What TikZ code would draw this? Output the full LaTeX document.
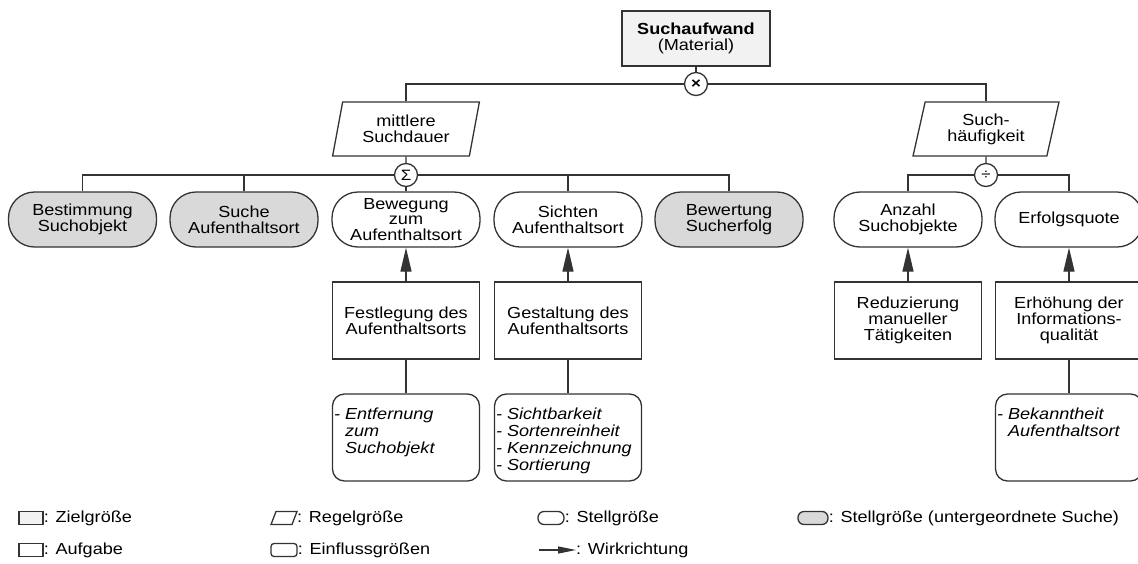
\documentclass[tikz,border=0pt]{standalone}
\usepackage{fontspec}
\setmainfont{Liberation Sans}[FakeStretch=1.13]
\usetikzlibrary{shapes.geometric,arrows.meta,calc}
\begin{document}
\begin{tikzpicture}[x=1pt,y=-1pt,
  every node/.style={font=\fontsize{16}{16}\selectfont, inner sep=0pt, align=center},
  ln/.style={draw=black!80, line width=1.3pt},
  ziel/.style={ln, fill=black!5, minimum width=148pt, minimum height=55pt},
  regel/.style={ln, fill=white, trapezium, trapezium left angle=76, trapezium right angle=104,
     trapezium stretches=true, minimum width=147pt, minimum height=54pt},
  stell/.style={ln, fill=white, rounded corners=26pt, minimum width=148pt, minimum height=55pt},
  stellsub/.style={stell, fill=black!15},
  aufg/.style={ln, fill=white, minimum width=147pt, minimum height=77pt},
  einfl/.style={ln, fill=white, rounded corners=12pt, minimum width=147pt, minimum height=87pt},
  etext/.style={anchor=north west, align=left, font=\fontsize{16}{17}\selectfont\itshape},
  op/.style={ln, circle, fill=white, minimum size=23pt, font=\fontsize{15}{15}\selectfont},
  wirk/.style={ln, -{Triangle[length=24pt, width=11pt]}},
  legtext/.style={anchor=west}
]
\useasboundingbox (0,0) rectangle (1138,563);

% top level
\node[ziel] (sa) at (696,38.5) {\textbf{Suchaufwand}\\(Material)};
\node[regel] (msd) at (406,129) {mittlere\\Suchdauer};
\node[regel] (sh) at (986,129) {Such-\\häufigkeit};

% Stellgrößen
\node[stellsub] (b1) at (82.5,219.5) {Bestimmung\\Suchobjekt};
\node[stellsub] (b2) at (244,219.5) {Suche\\Aufenthaltsort};
\node[stell] (b3) at (406,219.5) {Bewegung\\[-0.5pt]zum\\[-0.5pt]Aufenthaltsort};
\node[stell] (b4) at (568,219.5) {Sichten\\Aufenthaltsort};
\node[stellsub] (b5) at (729,219.5) {Bewertung\\Sucherfolg};
\node[stell] (a1) at (908,219.5) {Anzahl\\Suchobjekte};
\node[stell] (a2) at (1069,219.5) {Erfolgsquote};

% Aufgaben
\node[aufg] (t1) at (406,320.5) {Festlegung des\\Aufenthaltsorts};
\node[aufg] (t2) at (568,320.5) {Gestaltung des\\Aufenthaltsorts};
\node[aufg] (t3) at (908,320.5) {Reduzierung\\manueller\\Tätigkeiten};
\node[aufg] (t4) at (1069,320.5) {Erhöhung der\\Informations-\\qualität};

% Einflussgrößen
\node[einfl] (e1) at (406,437.5) {};
\node[einfl] (e2) at (568,437.5) {};
\node[einfl] (e4) at (1069,437.5) {};
\node[etext] (e1t) at ($(e1.north west)+(2,14)$) {\begin{tabular}{@{}l@{ }l@{}}- & Entfernung\\ & zum\\ & Suchobjekt\end{tabular}};
\node[etext] (e2t) at ($(e2.north west)+(2,14)$) {\begin{tabular}{@{}l@{ }l@{}}- & Sichtbarkeit\\- & Sortenreinheit\\- & Kennzeichnung\\- & Sortierung\end{tabular}};
\node[etext] (e4t) at ($(e4.north west)+(2,14)$) {\begin{tabular}{@{}l@{ }l@{}}- & Bekanntheit\\ & Aufenthaltsort\end{tabular}};

% operator circles positions
\coordinate (mulc) at (696,84);
\coordinate (sumc) at (406,175);
\coordinate (divc) at (986,175);

% connectors
\draw[ln] (sa.south) -- (mulc);
\draw[ln] (mulc) -| (msd.north);
\draw[ln] (mulc) -| (sh.north);
\draw[ln] (msd.south) -- (sumc);
\draw[ln] (sumc) -| (b1.north);
\draw[ln] (b2.north) -- (b2.north |- sumc);
\draw[ln] (sumc) -- (b3.north);
\draw[ln] (b4.north) -- (b4.north |- sumc);
\draw[ln] (sumc) -| (b5.north);
\draw[ln] (sh.south) -- (divc);
\draw[ln] (divc) -| (a1.north);
\draw[ln] (divc) -| (a2.north);

\node[op] (mul) at (mulc) {\textbf{×}};
\node[op] (sum) at (sumc) {Σ};
\node[op] (div) at (divc) {÷};

\draw[wirk] (t1.north) -- (b3.south);
\draw[wirk] (t2.north) -- (b4.south);
\draw[wirk] (t3.north) -- (a1.south);
\draw[wirk] (t4.north) -- (a2.south);
\draw[ln] (t1.south) -- (e1.north);
\draw[ln] (t2.south) -- (e2.north);
\draw[ln] (t4.south) -- (e4.north);

% legend
\node[ln, fill=black!5, minimum width=24pt, minimum height=13pt] (l1) at (31,518) {};
\node[legtext] (l1t) at (l1.east) {: Zielgröße};
\coordinate (l2) at (284,518);
\draw[ln, fill=white] ($(l2)+(-13,6.5)$) -- ($(l2)+(-8,-6.5)$) -- ($(l2)+(13,-6.5)$) -- ($(l2)+(8,6.5)$) -- cycle;
\node[legtext] (l2t) at ($(l2)+(13,0)$) {: Regelgröße};
\node[ln, fill=white, rounded corners=6pt, minimum width=26pt, minimum height=13pt] (l3) at (551,518) {};
\node[legtext] (l3t) at (l3.east) {: Stellgröße};
\node[ln, fill=black!15, rounded corners=6pt, minimum width=30pt, minimum height=13pt] (l4) at (813,518) {};
\node[legtext] (l4t) at (l4.east) {: Stellgröße (untergeordnete Suche)};

\node[ln, fill=white, minimum width=24pt, minimum height=13pt] (l5) at (31,550) {};
\node[legtext] (l5t) at (l5.east) {: Aufgabe};
\node[ln, fill=white, rounded corners=3pt, minimum width=26pt, minimum height=13pt] (l6) at (284,550) {};
\node[legtext] (l6t) at (l6.east) {: Einflussgrößen};
\coordinate (l7a) at (539,550);
\coordinate (l7b) at (576,550);
\draw[ln, -{Triangle[length=18pt, width=7pt]}] (l7a) -- (l7b);
\node[legtext] (l7t) at (l7b) {: Wirkrichtung};
\end{tikzpicture}
\end{document}
